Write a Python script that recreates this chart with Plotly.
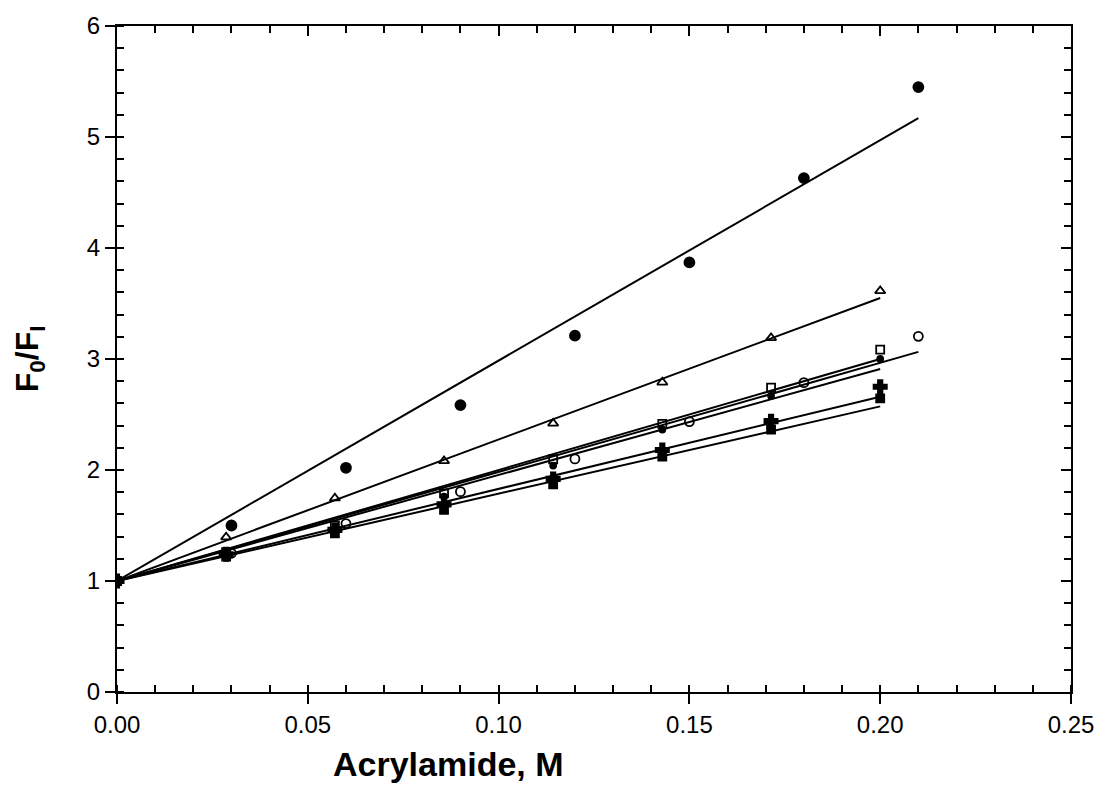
import plotly.graph_objects as go

# concentrations (M)
x_a = [0, 0.0286, 0.0571, 0.0857, 0.1143, 0.1429, 0.1714, 0.2]
x_b = [0, 0.03, 0.06, 0.09, 0.12, 0.15, 0.18, 0.21]

# F0/F values
y_filled_circle = [1, 1.50, 2.02, 2.585, 3.21, 3.87, 4.63, 5.45]
y_open_triangle = [1, 1.395, 1.746, 2.082, 2.42, 2.79, 3.19, 3.614]
y_open_circle = [1, 1.25, 1.517, 1.805, 2.10, 2.436, 2.787, 3.204]
y_open_square = [1, 1.26, 1.50, 1.79, 2.097, 2.415, 2.742, 3.085]
y_small_dot = [1, 1.24, 1.47, 1.76, 2.04, 2.365, 2.668, 3.0]
y_cross = [1, 1.24, 1.46, 1.69, 1.92, 2.18, 2.44, 2.75]
y_filled_square = [1, 1.22, 1.43, 1.64, 1.87, 2.12, 2.365, 2.645]

# fitted Stern-Volmer lines: start (0, 1), end value
fit_x_end = [0.21, 0.2, 0.21, 0.2, 0.2, 0.2, 0.2]
fit_y_end = [5.17, 3.55, 3.064, 3.0, 2.91, 2.66, 2.573]

x_ticks = [0, 0.05, 0.10, 0.15, 0.20, 0.25]
x_ticklabels = ["0.00", "0.05", "0.10", "0.15", "0.20", "0.25"]
y_ticks = [0, 1, 2, 3, 4, 5, 6]

series = [
    (x_b, y_filled_circle, "circle", 10),
    (x_a, y_open_triangle, "triangle-up-open", 9),
    (x_b, y_open_circle, "circle-open", 9),
    (x_a, y_open_square, "square-open", 8),
    (x_a, y_small_dot, "circle", 6),
    (x_a, y_cross, "cross", 11),
    (x_a, y_filled_square, "square", 8),
]

fig = go.Figure()

for xe, ye in zip(fit_x_end, fit_y_end):
    fig.add_trace(go.Scatter(x=[0, xe], y=[1, ye], mode="lines",
                             line=dict(color="black", width=2),
                             showlegend=False, hoverinfo="skip"))

for xs, ys, sym, sz in series:
    fig.add_trace(go.Scatter(x=xs, y=ys, mode="markers",
                             marker=dict(symbol=sym, size=sz, color="black",
                                         line=dict(color="black", width=1.8)),
                             showlegend=False))

# invisible trace to carry the top/right frame axes
fig.add_trace(go.Scatter(x=[0], y=[0], xaxis="x2", yaxis="y2", mode="markers",
                         marker=dict(opacity=0), showlegend=False, hoverinfo="skip"))

font_family = "Liberation Sans, Arial, sans-serif"

common = dict(showgrid=False, zeroline=False, showline=True, linecolor="black",
              linewidth=2, tickwidth=2, tickcolor="black")

fig.update_layout(
    width=1106, height=807,
    margin=dict(l=117, r=30, t=20, b=115),
    paper_bgcolor="white", plot_bgcolor="white",
    font=dict(family=font_family, color="black", size=24),
    showlegend=False,
    xaxis=dict(range=[0, 0.25], tickvals=x_ticks, ticktext=x_ticklabels,
               ticks="outside", ticklen=10,
               minor=dict(ticks="inside", dtick=0.01, ticklen=7, tickwidth=2,
                          tickcolor="black", showgrid=False),
               tickfont=dict(size=24), **common),
    yaxis=dict(range=[0, 6], tickvals=y_ticks,
               ticks="outside", ticklen=10,
               minor=dict(ticks="inside", dtick=0.2, ticklen=7, tickwidth=2,
                          tickcolor="black", showgrid=False),
               tickfont=dict(size=24), **common),
    xaxis2=dict(range=[0, 0.25], overlaying="x", side="top", tickvals=x_ticks,
                showticklabels=False, ticks="inside", ticklen=10,
                minor=dict(ticks="inside", dtick=0.01, ticklen=7, tickwidth=2,
                           tickcolor="black", showgrid=False), **common),
    yaxis2=dict(range=[0, 6], overlaying="y", side="right", tickvals=y_ticks,
                showticklabels=False, ticks="inside", ticklen=10,
                minor=dict(ticks="inside", dtick=0.2, ticklen=7, tickwidth=2,
                           tickcolor="black", showgrid=False), **common),
)

fig.add_annotation(text="<b>Acrylamide, M</b>", xref="x", yref="paper",
                   x=0.087, y=-0.108, xanchor="center", yanchor="middle",
                   showarrow=False, font=dict(size=34))
fig.add_annotation(text="<b>F<sub>0</sub>/F<sub>I</sub></b>", xref="paper", yref="y",
                   x=-0.092, y=3.0, xanchor="center", yanchor="middle",
                   textangle=-90, showarrow=False, font=dict(size=32))

fig.write_html("out.html")
